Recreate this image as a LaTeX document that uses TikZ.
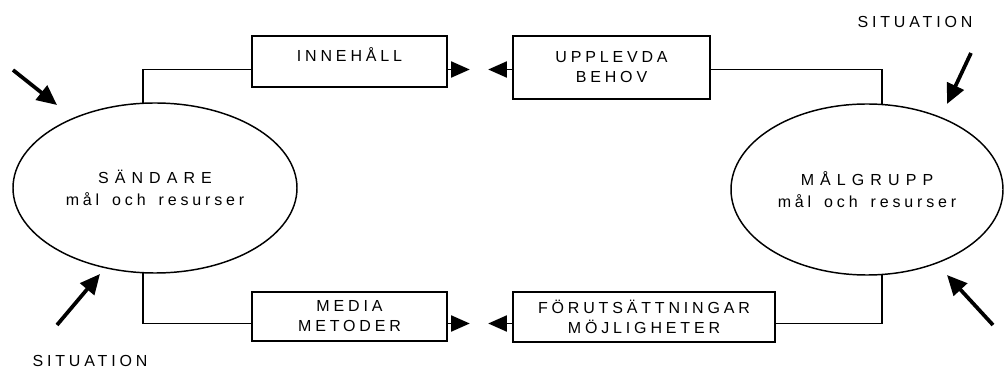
\documentclass[tikz,border=0pt]{standalone}
\usepackage{fontspec}
\setmainfont{Liberation Sans}[LetterSpace=24]
\newfontfamily\widefont{Liberation Sans}[LetterSpace=38]
\usetikzlibrary{shapes.geometric,arrows.meta}
\newcommand{\wsp}{\hspace{3.5pt} }
\begin{document}
\begin{tikzpicture}[x=0.75pt,y=-0.75pt,
  every node/.style={font=\fontsize{12}{15}\selectfont},
  box/.style={draw,line width=1.2pt,rectangle,inner sep=0pt,align=center},
  oval/.style={draw,line width=1.1pt,ellipse,inner sep=0pt,align=center,font=\fontsize{12}{17}\selectfont},
  conn/.style={line width=1pt},
  stub/.style={line width=1.4pt,-{Triangle[length=14pt,width=12pt]}},
  bigarrow/.style={line width=2.8pt,-{Triangle[length=15pt,width=13.5pt]}}]
\useasboundingbox (0,0) rectangle (1004,370);
% ellipses
\node[oval,minimum width=213pt,minimum height=127.5pt] (sand) at (155,188) {{\widefont SÄNDARE}\\mål\wsp och\wsp resurser};
\node[oval,minimum width=204pt,minimum height=128.25pt] (malg) at (867,189.5) {{\widefont MÅLGRUPP}\\mål\wsp och\wsp resurser};
% boxes
\node[box,minimum width=146.25pt,minimum height=38.25pt,text height=9pt,text depth=8.5pt] (inne) at (349.5,61.5) {INNEHÅLL};
\node[box,minimum width=147.75pt,minimum height=47.25pt] (upp) at (611.5,67.5) {UPPLEVDA\\BEHOV};
\node[box,minimum width=146.25pt,minimum height=36.75pt] (media) at (349.5,316.5) {MEDIA\\METODER};
\node[box,minimum width=196.5pt,minimum height=37.5pt] (forut) at (644,317) {FÖRUTSÄTTNINGAR\\MÖJLIGHETER};
% situation labels
\node[anchor=base] (sit1) at (915,28) {SITUATION};
\node[anchor=base] (sit2) at (90,367) {SITUATION};
% rows
\coordinate (rowT) at (0,69.5);
\coordinate (rowB) at (0,323.5);
% connectors
\draw[conn] (sand.98) |- (inne.west |- rowT);
\draw[conn] (upp.east |- rowT) -| (malg.80);
\draw[conn] (sand.262) |- (media.west |- rowB);
\draw[conn] (forut.east |- rowB) -| (malg.280);
% stubs
\draw[stub] (inne.east |- rowT) -- ++(22,0);
\draw[stub] (upp.west |- rowT) -- ++(-24,0);
\draw[stub] (media.east |- rowB) -- ++(22,0);
\draw[stub] (forut.west |- rowB) -- ++(-24,0);
% situation arrows
\coordinate (a1s) at (13,70); \coordinate (a1e) at (57,105);
\coordinate (a2s) at (57,325); \coordinate (a2e) at (100,274);
\coordinate (a3s) at (971,53); \coordinate (a3e) at (947,104);
\coordinate (a4s) at (993,325); \coordinate (a4e) at (947,275);
\draw[bigarrow] (a1s) -- (a1e);
\draw[bigarrow] (a2s) -- (a2e);
\draw[bigarrow] (a3s) -- (a3e);
\draw[bigarrow] (a4s) -- (a4e);
\end{tikzpicture}
\end{document}
